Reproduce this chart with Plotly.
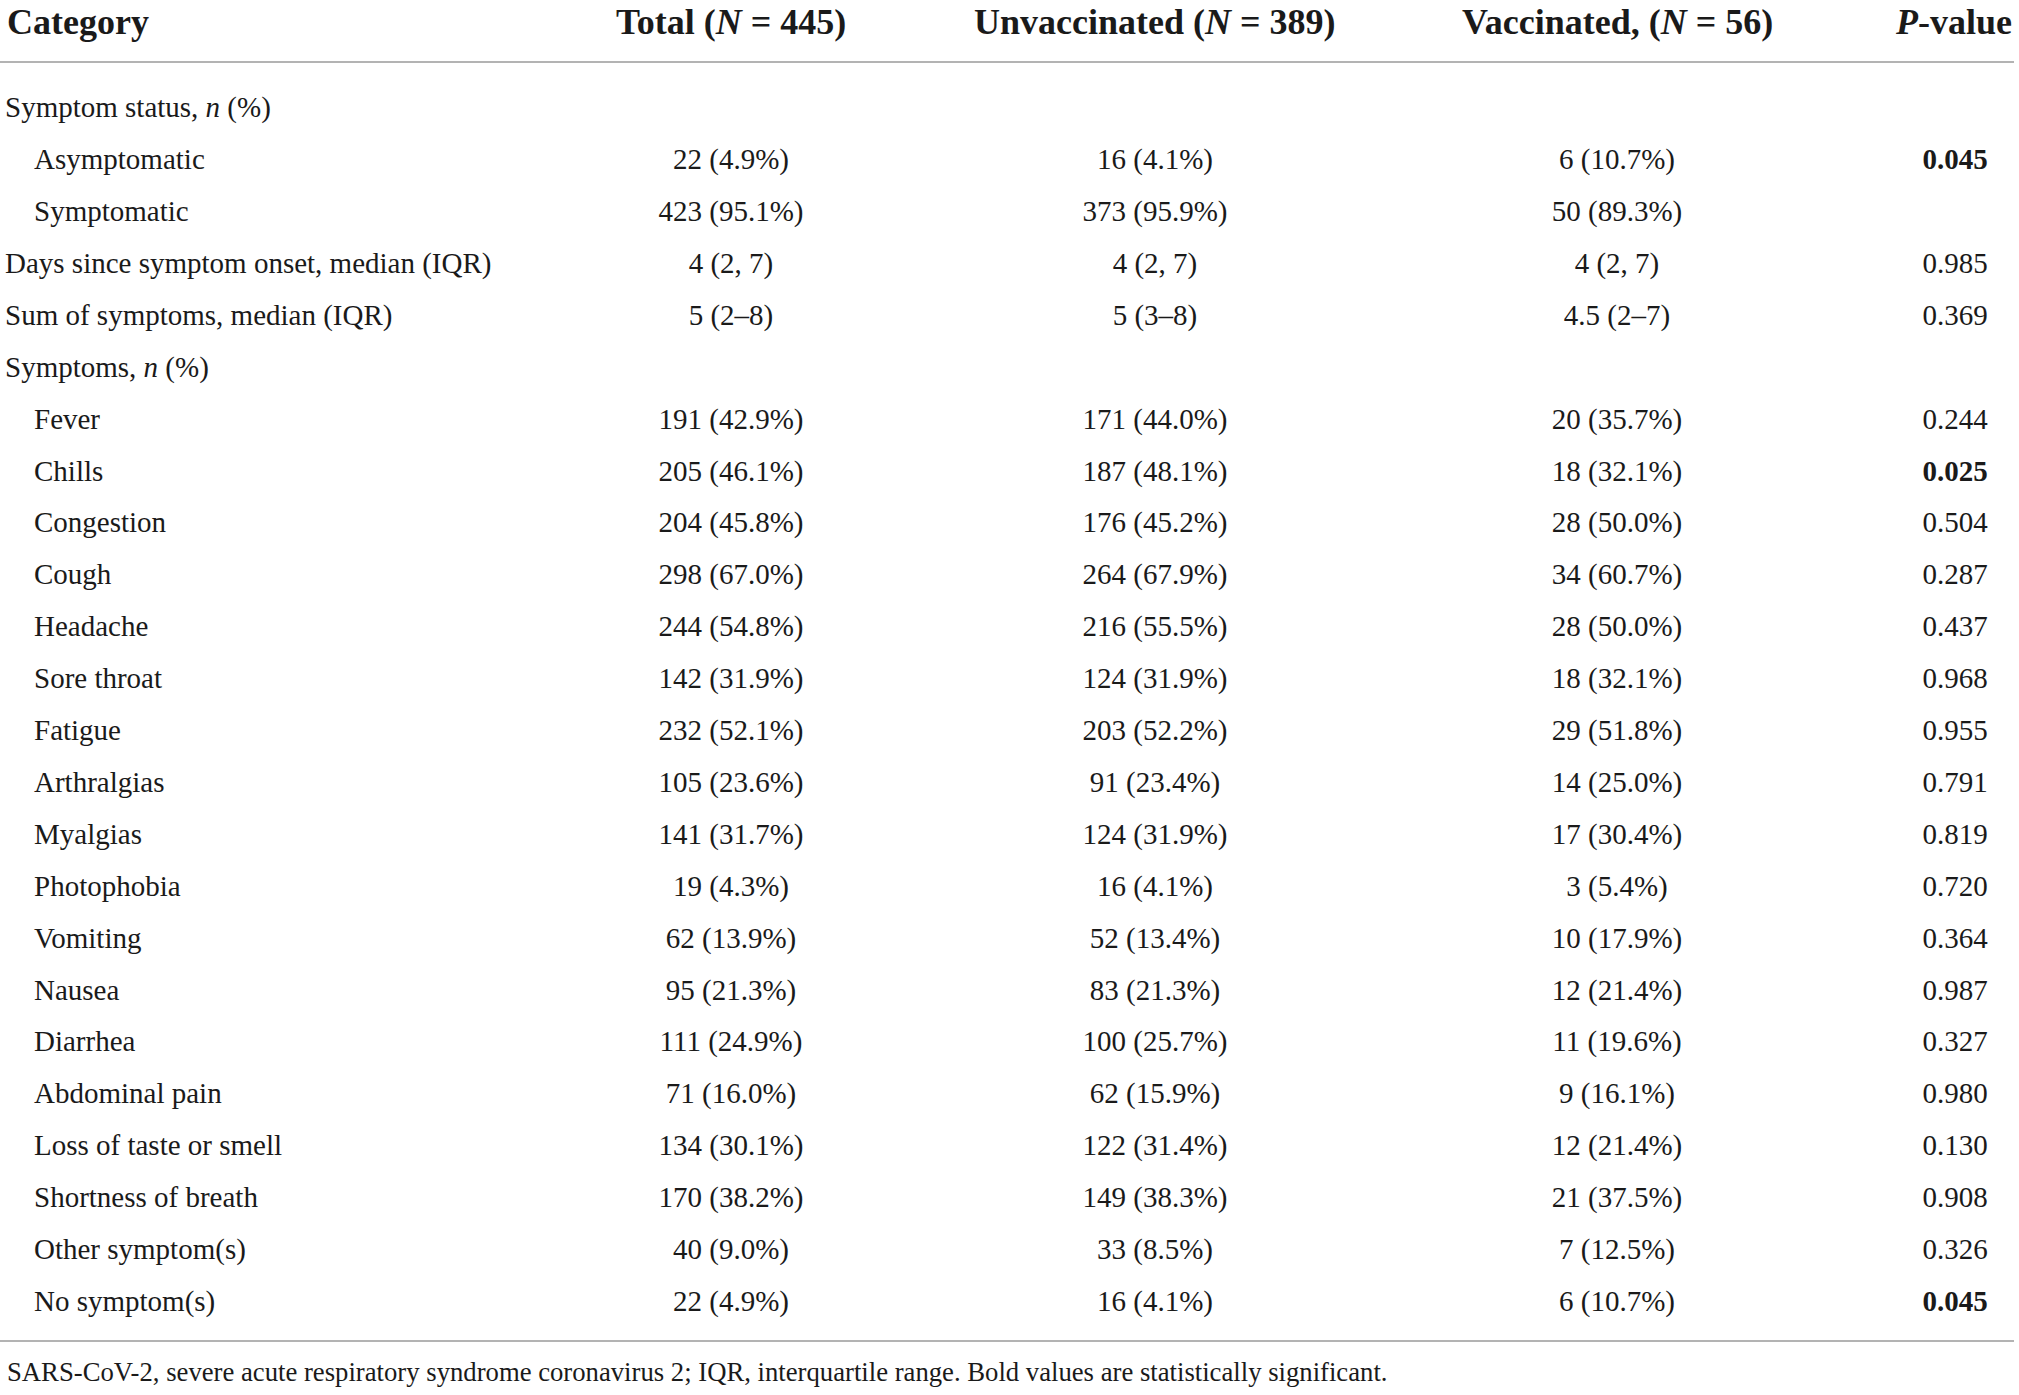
import plotly.graph_objects as go

# table content
headers = ["Category", "Total (<i>N</i> = 445)", "Unvaccinated (<i>N</i> = 389)",
           "Vaccinated, (<i>N</i> = 56)", "<i>P</i>-value"]

categories = [
    "Symptom status, <i>n</i> (%)", "Asymptomatic", "Symptomatic",
    "Days since symptom onset, median (IQR)", "Sum of symptoms, median (IQR)",
    "Symptoms, <i>n</i> (%)", "Fever", "Chills", "Congestion", "Cough", "Headache",
    "Sore throat", "Fatigue", "Arthralgias", "Myalgias", "Photophobia", "Vomiting",
    "Nausea", "Diarrhea", "Abdominal pain", "Loss of taste or smell",
    "Shortness of breath", "Other symptom(s)", "No symptom(s)",
]
indented = [False, True, True, False, False, False] + [True] * 18

total = ["", "22 (4.9%)", "423 (95.1%)", "4 (2, 7)", "5 (2–8)", "",
         "191 (42.9%)", "205 (46.1%)", "204 (45.8%)", "298 (67.0%)", "244 (54.8%)",
         "142 (31.9%)", "232 (52.1%)", "105 (23.6%)", "141 (31.7%)", "19 (4.3%)",
         "62 (13.9%)", "95 (21.3%)", "111 (24.9%)", "71 (16.0%)", "134 (30.1%)",
         "170 (38.2%)", "40 (9.0%)", "22 (4.9%)"]
unvaccinated = ["", "16 (4.1%)", "373 (95.9%)", "4 (2, 7)", "5 (3–8)", "",
                "171 (44.0%)", "187 (48.1%)", "176 (45.2%)", "264 (67.9%)", "216 (55.5%)",
                "124 (31.9%)", "203 (52.2%)", "91 (23.4%)", "124 (31.9%)", "16 (4.1%)",
                "52 (13.4%)", "83 (21.3%)", "100 (25.7%)", "62 (15.9%)", "122 (31.4%)",
                "149 (38.3%)", "33 (8.5%)", "16 (4.1%)"]
vaccinated = ["", "6 (10.7%)", "50 (89.3%)", "4 (2, 7)", "4.5 (2–7)", "",
              "20 (35.7%)", "18 (32.1%)", "28 (50.0%)", "34 (60.7%)", "28 (50.0%)",
              "18 (32.1%)", "29 (51.8%)", "14 (25.0%)", "17 (30.4%)", "3 (5.4%)",
              "10 (17.9%)", "12 (21.4%)", "11 (19.6%)", "9 (16.1%)", "12 (21.4%)",
              "21 (37.5%)", "7 (12.5%)", "6 (10.7%)"]
p_values = ["", "0.045", "", "0.985", "0.369", "",
            "0.244", "0.025", "0.504", "0.287", "0.437", "0.968", "0.955", "0.791",
            "0.819", "0.720", "0.364", "0.987", "0.327", "0.980", "0.130", "0.908",
            "0.326", "0.045"]
significant = [p != "" and float(p) < 0.05 for p in p_values]

footnote = ("SARS-CoV-2, severe acute respiratory syndrome coronavirus 2; IQR, "
            "interquartile range. Bold values are statistically significant.")

W, H = 2019, 1395
FONT = "Liberation Serif"
INK = "#1a1a1a"
ROW_H = 51.9
FIRST = 110


def row_y(px):
    # pixel position -> row units on the y axis
    return (px - FIRST) / ROW_H


rows = list(range(len(categories)))
col_x = [5, 731, 1155, 1617, 1955]

fig = go.Figure()

labels = [("\u2003" if ind else "") + c for c, ind in zip(categories, indented)]
fig.add_trace(go.Scatter(
    x=[col_x[0]] * len(rows), y=rows, mode="text", text=labels,
    textposition="middle right", textfont=dict(family=FONT, size=29, color=INK),
    cliponaxis=False, hoverinfo="skip", showlegend=False))

for xi, col in zip(col_x[1:4], [total, unvaccinated, vaccinated]):
    fig.add_trace(go.Scatter(
        x=[xi] * len(rows), y=rows, mode="text", text=col,
        textposition="middle center", textfont=dict(family=FONT, size=29, color=INK),
        cliponaxis=False, hoverinfo="skip", showlegend=False))

p_text = ["<b>%s</b>" % p if s else p for p, s in zip(p_values, significant)]
fig.add_trace(go.Scatter(
    x=[col_x[4]] * len(rows), y=rows, mode="text", text=p_text,
    textposition="middle center", textfont=dict(family=FONT, size=29, color=INK),
    cliponaxis=False, hoverinfo="skip", showlegend=False))

# header row
header_x = [5, 731, 1155, 1617, 2014]
for i, (xi, h) in enumerate(zip(header_x, headers)):
    fig.add_annotation(x=xi, y=row_y(22), text="<b>%s</b>" % h, showarrow=False,
                       xanchor="left" if i == 0 else ("right" if i == 4 else "center"),
                       yanchor="middle",
                       font=dict(family=FONT, size=36, color=INK))

# rules
for py in (62, 1341):
    fig.add_shape(type="line", x0=0, x1=2014, y0=row_y(py), y1=row_y(py),
                  line=dict(color="#9a9a9a", width=1.6))

fig.add_annotation(x=col_x[0], y=row_y(1372), text=footnote, showarrow=False,
                   xanchor="left", yanchor="middle",
                   font=dict(family=FONT, size=26.7, color=INK))

fig.update_layout(
    width=W, height=H,
    margin=dict(l=0, r=0, t=0, b=0),
    paper_bgcolor="white", plot_bgcolor="white",
    xaxis=dict(range=[0, W], visible=False, fixedrange=True),
    yaxis=dict(range=[row_y(H), row_y(0)], visible=False, fixedrange=True),
)

# drop the browser's default 8px page margin so the figure fills the window
fig.write_html("out.html", config={"displayModeBar": False},
               post_script="document.body.style.margin = '0';")
